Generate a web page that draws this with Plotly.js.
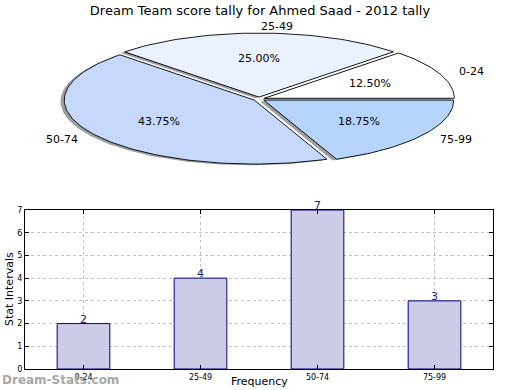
<!DOCTYPE html>
<html>
<head>
<meta charset="utf-8">
<script src="https://cdn.plot.ly/plotly-3.0.1.min.js"></script>
<style>html,body{margin:0;padding:0;background:#fff;}#chart{width:520px;height:390px;}</style>
</head>
<body>
<div id="chart"></div>
<script>
// ---- data ----
var categories = ["0-24", "25-49", "50-74", "75-99"];
var counts = [2, 4, 7, 3];
var sliceColors = ["#ffffff", "#ebf2ff", "#c6d9fd", "#b5d5ff"];
var yTicks = [0, 1, 2, 3, 4, 5, 6, 7];
var titleText = "Dream Team score tally for Ahmed Saad - 2012 tally";
var xTitle = "Frequency";
var yTitle = "Stat Intervals";
var watermark = "Dream-Stats.com";

// ---- pie geometry (pixel space of the top subplot) ----
var PIE = {cx: 259, cy: 99, rx: 190, ry: 64, explode: 0.03, shadowDx: -0.02, shadowDy: -0.02};
var total = counts.reduce(function (a, b) { return a + b; }, 0);

var traces = [];
var annotations = [];
var wedges = [];
var acc = 0;
counts.forEach(function (v, i) {
  var a0 = acc / total * 2 * Math.PI;
  acc += v;
  var a1 = acc / total * 2 * Math.PI;
  var mid = (a0 + a1) / 2;
  var ox = PIE.cx + PIE.explode * PIE.rx * Math.cos(mid);
  var oy = PIE.cy - PIE.explode * PIE.ry * Math.sin(mid);
  var xs = [ox], ys = [oy];
  var n = Math.max(8, Math.round((a1 - a0) / (2 * Math.PI) * 240));
  for (var k = 0; k <= n; k++) {
    var a = a0 + (a1 - a0) * k / n;
    xs.push(ox + PIE.rx * Math.cos(a));
    ys.push(oy - PIE.ry * Math.sin(a));
  }
  xs.push(ox); ys.push(oy);
  wedges.push({xs: xs, ys: ys, mid: mid, ox: ox, oy: oy, i: i});
});

// shadows first
wedges.forEach(function (w) {
  var dx = PIE.shadowDx * PIE.rx, dy = -PIE.shadowDy * PIE.ry;
  traces.push({
    type: "scatter", mode: "lines", xaxis: "x2", yaxis: "y2",
    x: w.xs.map(function (x) { return x + dx; }),
    y: w.ys.map(function (y) { return y + dy; }),
    fill: "toself", fillcolor: "rgba(60,64,72,0.5)",
    line: {width: 0, color: "rgba(0,0,0,0)"},
    hoverinfo: "skip", showlegend: false
  });
});
wedges.forEach(function (w) {
  traces.push({
    type: "scatter", mode: "lines", xaxis: "x2", yaxis: "y2",
    x: w.xs, y: w.ys,
    fill: "toself", fillcolor: sliceColors[w.i],
    line: {width: 0.9, color: "#000000"},
    hoverinfo: "skip", showlegend: false
  });
  var c = Math.cos(w.mid), s = Math.sin(w.mid);
  annotations.push({
    xref: "x2", yref: "y2", showarrow: false,
    x: w.ox + 1.1 * PIE.rx * c, y: w.oy - 1.1 * PIE.ry * s,
    xanchor: c >= 0 ? "left" : "right", yanchor: "middle",
    text: categories[w.i],
    font: {family: "DejaVu Sans", size: 11, color: "#000"}
  });
  annotations.push({
    xref: "x2", yref: "y2", showarrow: false,
    x: w.ox + 0.6 * PIE.rx * c, y: w.oy - 0.6 * PIE.ry * s,
    xanchor: "center", yanchor: "middle",
    text: (counts[w.i] / total * 100).toFixed(2) + "%",
    font: {family: "DejaVu Sans", size: 11, color: "#000"}
  });
});

// bar chart
traces.push({
  type: "bar", x: categories, y: counts, width: 0.45,
  marker: {color: "rgb(204,204,230)", line: {color: "#000080", width: 1}},
  hoverinfo: "skip", showlegend: false
});
categories.forEach(function (c, i) {
  annotations.push({
    xref: "x", yref: "y", x: c, y: counts[i], showarrow: false,
    xanchor: "center", yanchor: "bottom", yshift: -4,
    text: String(counts[i]),
    font: {family: "DejaVu Sans", size: 11, color: "#1a1a8c"}
  });
});

// axis titles
annotations.push({
  xref: "paper", yref: "paper", x: 259 / 520, y: 0, xanchor: "center", yanchor: "bottom",
  showarrow: false, text: xTitle, font: {family: "DejaVu Sans", size: 11, color: "#000"}
});
annotations.push({
  xref: "paper", yref: "paper", x: 9 / 520, y: 1 - 289 / 390, xanchor: "center", yanchor: "middle",
  textangle: -90, showarrow: false, text: yTitle, font: {family: "DejaVu Sans", size: 11, color: "#000"}
});

annotations.push({
  xref: "paper", yref: "paper", x: 0, y: 1 - 380 / 390, xanchor: "left", yanchor: "middle",
  showarrow: false, text: "<b>" + watermark + "</b>",
  font: {family: "DejaVu Sans", size: 12, color: "#a8a8a8"}
});

var layout = {
  width: 520, height: 390,
  margin: {l: 0, r: 0, t: 0, b: 0},
  paper_bgcolor: "#ffffff", plot_bgcolor: "rgba(0,0,0,0)",
  font: {family: "DejaVu Sans", color: "#000"},
  title: {text: titleText, font: {family: "DejaVu Sans", size: 13, color: "#000"},
          x: 0.5, xanchor: "center", y: 1 - 10 / 390, yanchor: "middle"},
  xaxis: {
    domain: [25 / 520, 493 / 520], anchor: "y",
    type: "category", range: [-0.5, 3.5],
    showline: true, linecolor: "#000", linewidth: 1, mirror: "ticks",
    ticks: "inside", ticklen: 4, tickcolor: "#000",
    showgrid: true, gridcolor: "#c0c0c0", griddash: "dot", gridwidth: 1,
    tickfont: {family: "DejaVu Sans", size: 8, color: "#000"},
    zeroline: false, fixedrange: true
  },
  yaxis: {
    domain: [1 - 369 / 390, 1 - 210 / 390], anchor: "x",
    range: [0, 7], tickvals: yTicks,
    showline: true, linecolor: "#000", linewidth: 1, mirror: "ticks",
    ticks: "inside", ticklen: 4, tickcolor: "#000",
    showgrid: true, gridcolor: "#c0c0c0", griddash: "dot", gridwidth: 1,
    tickfont: {family: "DejaVu Sans", size: 8, color: "#000"},
    zeroline: false, fixedrange: true
  },
  xaxis2: {domain: [0, 1], anchor: "y2", range: [0, 520], visible: false, fixedrange: true},
  yaxis2: {domain: [1 - 190 / 390, 1], anchor: "x2", range: [190, 0], visible: false, fixedrange: true},
  annotations: annotations
};

Plotly.newPlot("chart", traces, layout, {staticPlot: true, displayModeBar: false});
</script>
</body>
</html>
